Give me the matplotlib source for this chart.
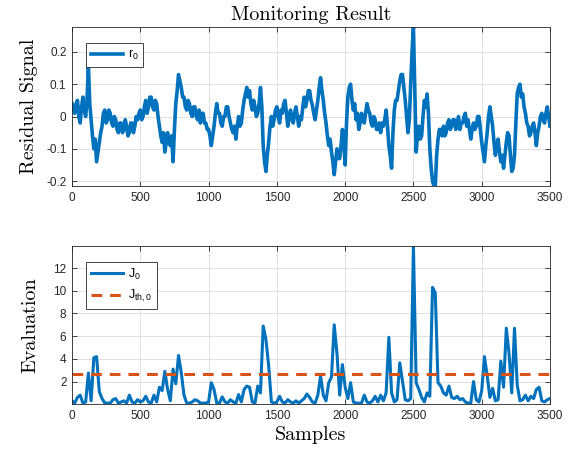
import numpy as np
import matplotlib
matplotlib.use("Agg")
import matplotlib.pyplot as plt

r_step = 10
r0 = [
    0.04, 0.02, 0.01, 0.04, 0.05, 0.00, -0.02, 0.03, 0.06, 0.02, 0.00, 0.05, 0.16, 0.04, -0.01, -0.06, -0.10, -0.07, -0.14, -0.11,
    -0.08, -0.05, -0.03, 0.01, 0.02, -0.02, -0.01, 0.02, 0.01, -0.02, -0.03, 0.00, -0.01, -0.04, -0.05, -0.02, -0.02, -0.05, -0.04, -0.01,
    -0.03, -0.06, -0.05, -0.02, -0.02, -0.05, -0.03, 0.00, -0.01, 0.01, 0.02, -0.01, 0.00, 0.03, 0.05, 0.01, 0.03, 0.06, 0.06, 0.03,
    0.02, 0.05, 0.04, 0.00, -0.03, -0.06, -0.08, -0.05, -0.11, -0.08, -0.05, -0.08, -0.09, -0.06, -0.14, -0.04, 0.04, 0.08, 0.13, 0.11,
    0.09, 0.06, 0.06, 0.03, 0.02, 0.05, 0.04, 0.01, 0.00, 0.03, 0.03, 0.00, -0.01, 0.02, -0.02, 0.01, 0.01, -0.02, -0.02, -0.04,
    -0.04, -0.06, -0.09, -0.06, -0.03, 0.01, 0.04, 0.01, 0.01, -0.02, -0.03, 0.00, 0.00, 0.03, 0.03, 0.00, -0.02, -0.04, -0.05, -0.03,
    -0.07, -0.03, 0.00, -0.03, -0.02, 0.02, 0.05, 0.07, 0.09, 0.06, 0.08, 0.04, 0.02, 0.05, 0.03, 0.00, 0.01, 0.04, 0.09, 0.03,
    -0.09, -0.14, -0.17, -0.12, -0.08, -0.03, 0.00, -0.03, -0.01, 0.02, 0.03, 0.00, -0.02, 0.02, 0.01, 0.04, 0.05, 0.01, -0.03, 0.00,
    0.02, -0.01, -0.02, 0.01, 0.03, 0.00, -0.03, 0.00, -0.01, 0.03, 0.06, 0.03, 0.05, 0.08, 0.08, 0.05, 0.035, 0.01, -0.01, 0.02,
    0.05, 0.09, 0.12, 0.08, 0.05, 0.01, -0.02, -0.06, -0.09, -0.07, -0.11, -0.14, -0.18, -0.14, -0.10, -0.13, -0.13, -0.09, -0.04, -0.08,
    -0.15, -0.02, 0.06, 0.09, 0.10, 0.05, 0.02, 0.04, -0.01, 0.01, -0.04, -0.02, 0.01, -0.01, -0.02, 0.01, 0.04, 0.02, 0.01, -0.02,
    -0.03, 0.00, -0.01, -0.04, -0.04, -0.02, -0.05, -0.02, -0.03, -0.01, 0.02, -0.03, -0.09, -0.12, -0.16, -0.05, 0.02, 0.05, 0.05, 0.08,
    0.11, 0.13, 0.13, 0.09, 0.05, 0.00, -0.05, -0.01, 0.10, 0.20, 0.277, 0.08, -0.11, -0.06, -0.03, -0.07, -0.06, 0.00, 0.05, 0.03,
    0.07, 0.01, -0.10, -0.16, -0.20, -0.215, -0.215, -0.12, -0.07, -0.04, -0.04, -0.06, -0.03, -0.06, -0.05, -0.02, -0.01, -0.04, -0.03, -0.01,
    -0.01, -0.04, -0.02, 0.00, -0.04, -0.02, -0.02, 0.00, 0.01, -0.03, -0.01, -0.04, -0.07, -0.04, -0.02, -0.04, -0.03, 0.00, 0.00, -0.04,
    -0.08, -0.11, -0.14, -0.09, -0.05, 0.00, 0.03, 0.00, -0.03, -0.08, -0.12, -0.09, -0.07, -0.11, -0.14, -0.12, -0.16, -0.12, -0.08, -0.05,
    -0.06, -0.12, -0.17, -0.16, -0.12, -0.02, 0.07, 0.09, 0.10, 0.06, 0.07, 0.03, 0.01, -0.02, -0.03, -0.06, -0.05, -0.03, -0.02, -0.05,
    -0.09, -0.05, -0.03, 0.00, 0.01, -0.01, -0.02, 0.01, 0.03, 0.00, -0.03,
]
j_step = 20
J0 = [
    0.3, 0.1, 0.6, 0.8, 0.1, 0.2, 2.75, 0.3, 4.1, 4.2,
    1.1, 0.5, 0.1, 0.1, 0.1, 0.4, 0.5, 0.1, 0.2, 0.3,
    0.1, 0.8, 0.2, 0.1, 0.4, 0.2, 0.3, 0.7, 0.2, 0.1,
    0.8, 0.2, 1.5, 1.2, 2.9, 1.3, 0.3, 3.1, 1.8, 4.3,
    2.8, 0.8, 0.1, 0.1, 0.2, 0.4, 0.3, 0.1, 0.1, 0.1,
    0.2, 1.9, 1.3, 0.1, 0.1, 0.65, 0.2, 0.1, 0.4, 0.2,
    0.1, 0.85, 0.2, 1.3, 1.6, 1.5, 0.2, 0.1, 1.6, 1.0,
    6.9, 5.7, 3.4, 0.2, 0.1, 0.2, 0.7, 0.2, 0.1, 0.4,
    0.2, 0.1, 0.3, 0.1, 0.3, 0.5, 0.9, 0.6, 0.2, 0.1,
    0.8, 2.5, 0.8, 0.3, 1.9, 2.4, 7.0, 4.5, 0.8, 3.5,
    1.5, 0.5, 1.9, 0.2, 0.1, 0.1, 0.1, 0.8, 0.2, 0.1,
    0.3, 0.7, 0.2, 0.8, 0.3, 1.0, 5.9, 1.0, 0.2, 0.4,
    3.65, 2.0, 0.4, 0.3, 0.5, 13.95, 1.9, 1.3, 0.6, 0.2,
    1.0, 0.7, 10.3, 9.8, 1.9, 1.6, 1.0, 0.8, 1.6, 0.6,
    0.5, 0.7, 0.4, 0.5, 0.2, 0.1, 0.1, 2.0, 0.4, 0.2,
    1.2, 4.2, 2.5, 0.6, 1.4, 0.3, 0.4, 3.8, 1.5, 6.7,
    4.5, 1.0, 6.7, 1.7, 0.3, 0.4, 0.8, 0.3, 0.7, 0.5,
    1.3, 1.5, 0.3, 0.2, 0.4, 0.5,
]
threshold = 2.67
x_ticks = [0, 500, 1000, 1500, 2000, 2500, 3000, 3500]
top_yticks = [-0.2, -0.1, 0, 0.1, 0.2]
top_yticklabels = ["-0.2", "-0.1", "0", "0.1", "0.2"]
bot_yticks = [2, 4, 6, 8, 10, 12]

samples_r = np.arange(len(r0)) * r_step
samples_j = np.arange(len(J0)) * j_step

BLUE = "#0072BD"
ORANGE = "#D95319"
TICKFONT = "Liberation Sans"
SERIF = "cmr10"
LABELSIZE = 14.5

fig = plt.figure(figsize=(5.75, 4.57), dpi=100)
ax1 = fig.add_axes([72/575, 1-186/457, 478/575, 159/457])
ax2 = fig.add_axes([72/575, 1-404/457, 478/575, 158/457])

def style(ax):
    ax.grid(True, color="#dcdcdc", linewidth=0.6)
    ax.set_axisbelow(True)
    for s in ax.spines.values():
        s.set_color("#262626")
        s.set_linewidth(0.6)
    ax.tick_params(direction="in", top=True, right=True, length=3.5, width=0.6,
                   color="#262626", labelsize=8.5, labelcolor="#262626", pad=4)
    ax.set_xlim(0, 3500)
    ax.set_xticks(x_ticks)
    ax.set_xticklabels([str(t) for t in x_ticks], fontfamily=TICKFONT)

ax1.plot(samples_r, r0, color=BLUE, linewidth=2.6, label=r"$\mathregular{r_0}$")
ax1.set_ylim(-0.215, 0.277)
ax1.set_yticks(top_yticks)
ax1.set_yticklabels(top_yticklabels, fontfamily=TICKFONT)
style(ax1)
ax1.set_title("Monitoring Result", fontfamily=SERIF, fontsize=LABELSIZE, pad=5)
ax1.set_ylabel("Residual Signal", fontfamily=SERIF, fontsize=LABELSIZE, labelpad=6)
leg1 = ax1.legend(loc="upper left", bbox_to_anchor=(0.03, 0.9), prop={"family": TICKFONT, "size": 9},
                  fancybox=False, edgecolor="#262626", framealpha=1, handlelength=2.5,
                  borderpad=0.4, handletextpad=0.4, borderaxespad=0)
leg1.get_frame().set_linewidth(0.6)

ax2.plot(samples_j, J0, color=BLUE, linewidth=2.2, label=r"$\mathregular{J_0}$")
ax2.axhline(threshold, color=ORANGE, linewidth=2.2, linestyle=(0, (3.5, 2.6)),
            label=r"$\mathregular{J_{th,0}}$")
ax2.set_ylim(0.02, 13.95)
ax2.set_yticks(bot_yticks)
ax2.set_yticklabels([str(t) for t in bot_yticks], fontfamily=TICKFONT)
style(ax2)
ax2.set_xlabel("Samples", fontfamily=SERIF, fontsize=LABELSIZE, labelpad=3)
ax2.set_ylabel("Evaluation", fontfamily=SERIF, fontsize=LABELSIZE, labelpad=10)
leg2 = ax2.legend(loc="upper left", bbox_to_anchor=(0.03, 0.9), prop={"family": TICKFONT, "size": 9},
                  fancybox=False, edgecolor="#262626", framealpha=1, handlelength=2.5,
                  borderpad=0.4, handletextpad=0.4, borderaxespad=0, labelspacing=0.5)
leg2.get_frame().set_linewidth(0.6)

fig.savefig("out.png", dpi=100)
